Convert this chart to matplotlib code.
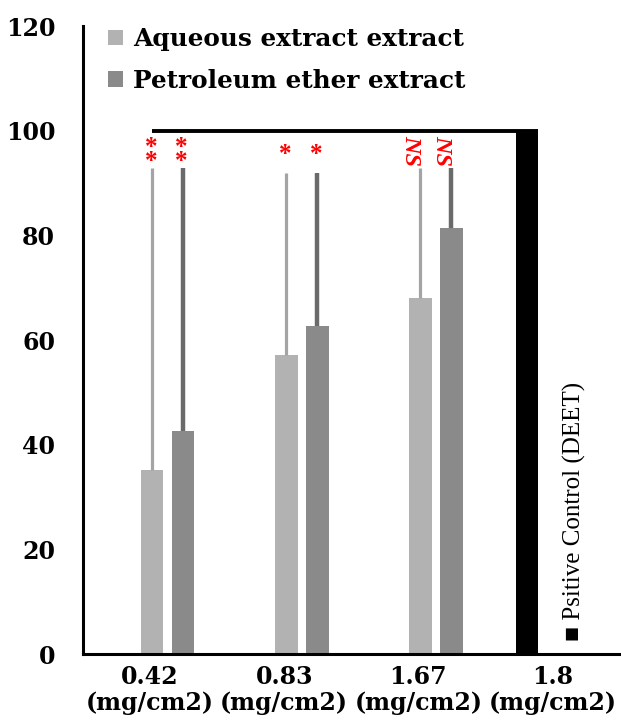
import matplotlib
matplotlib.use("Agg")
import matplotlib.pyplot as plt
import numpy as np

# data
doses = ["0.42\n(mg/cm2)", "0.83\n(mg/cm2)", "1.67\n(mg/cm2)", "1.8\n(mg/cm2)"]
aqueous = [35.2, 57.2, 68.1]
petroleum = [42.6, 62.7, 81.5]
aqueous_err = [57.8, 34.8, 24.9]
petroleum_err = [50.4, 29.3, 11.5]
control = 100
aqueous_sig = ["*\n*", "*", "NS"]
petroleum_sig = ["*\n*", "*", "NS"]
yticks = [0, 20, 40, 60, 80, 100, 120]

light = "#b2b2b2"
dark = "#8a8a8a"
light_err = "#a4a4a4"
dark_err = "#6a6a6a"
serif_bold = dict(family="DejaVu Serif", weight="bold", size=17)

fig = plt.figure(figsize=(6.21, 7.23), dpi=100)
fig.patch.set_facecolor("white")
ax = fig.add_axes([83 / 621, 1 - 654 / 723, 1 - 83 / 621, (654 - 26.4) / 723])

w = 0.17
xa = np.arange(3) + 0.015
xp = np.arange(3) + 0.245
xc = 3 - 0.19

ax.bar(xa, aqueous, w, color=light, label="Aqueous extract extract", zorder=2)
ax.bar(xp, petroleum, w, color=dark, label="Petroleum ether extract", zorder=2)
ax.errorbar(xa, aqueous, yerr=[np.zeros(3), aqueous_err], fmt="none",
            ecolor=light_err, elinewidth=2.3, capsize=0, zorder=3)
ax.errorbar(xp, petroleum, yerr=[np.zeros(3), petroleum_err], fmt="none",
            ecolor=dark_err, elinewidth=3.2, capsize=0, zorder=3)
ax.bar(xc, control, w, color="black", zorder=2)
ax.hlines(control, xa[0], xc + w / 2, color="black", lw=2.8, zorder=4)

# significance marks
for i in range(3):
    for x, s in ((xa[i], aqueous_sig[i]), (xp[i], petroleum_sig[i])):
        if s == "NS":
            ax.text(x - 0.07, 96.3, s, color="red", rotation=-90, ha="center",
                    va="center", family="Liberation Serif", style="italic",
                    weight="bold", size=17.5)
        else:
            ax.text(x - 0.01, 95.5, s, color="red", ha="center", va="center",
                    family="Liberation Serif", weight="bold", size=18,
                    linespacing=0.45)

ax.text(3.16, 2.5, "\u25a0 Psitive Control (DEET)", rotation=90, ha="center",
        va="bottom", size=18, family=["Liberation Serif", "DejaVu Sans"])

ax.set_xlim(-0.5, 3.51)
ax.set_ylim(0, 120)
ax.set_xticks(np.arange(4))
ax.set_xticklabels(doses, fontdict=serif_bold, linespacing=1.1)
ax.set_yticks(yticks)
ax.set_yticklabels([str(v) for v in yticks], fontdict=serif_bold)
ax.tick_params(length=0)
ax.tick_params(axis="y", pad=20)
ax.tick_params(axis="x", pad=8)
for side in ("top", "right"):
    ax.spines[side].set_visible(False)
for side in ("left", "bottom"):
    ax.spines[side].set_linewidth(2.2)

legend_font = dict(serif_bold, size=17.8)
fig.legend(loc="upper left", bbox_to_anchor=(96 / 621, 1 - 15 / 723),
           frameon=False, prop=legend_font, handlelength=0.6, handleheight=0.6,
           handletextpad=0.4, labelspacing=0.7, borderpad=0)

fig.savefig("out.png", dpi=100, facecolor="white")
